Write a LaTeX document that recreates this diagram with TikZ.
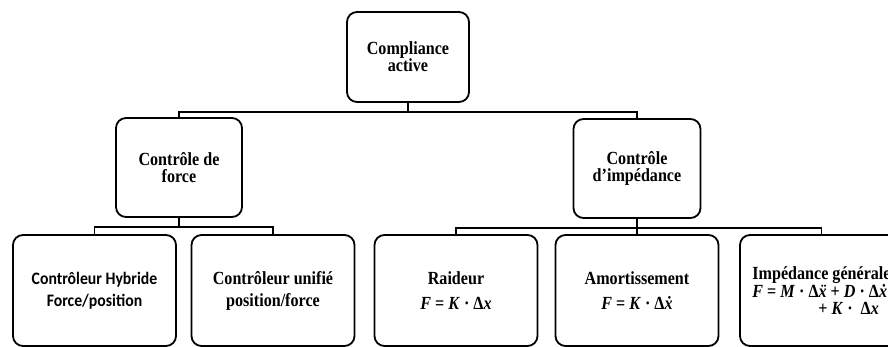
\documentclass[tikz,border=0pt]{standalone}
\usepackage{fontspec}
\setmainfont{Liberation Serif}[FakeStretch=0.87]
\newfontfamily\calib{Carlito}[FakeStretch=0.9]
\newcommand{\vi}[1]{\textit{#1}}
\newcommand{\dotx}{\textit{\accent"02D9 x}}
\newcommand{\ddotx}{\textit{\accent"00A8 x}}
\begin{document}
\begin{tikzpicture}[x=1pt,y=-1pt,
  box/.style={draw, line width=1.8pt, rounded corners=10pt, align=center,
    font=\fontsize{18.5}{17}\selectfont\bfseries, inner sep=0pt},
  leaf/.style={box, minimum width=163pt, minimum height=111pt},
  conn/.style={line width=1.8pt}]
\useasboundingbox (0,0) rectangle (888,347);
\clip (0,0) rectangle (888,347);
\node[box, minimum width=122pt, minimum height=90pt] (top) at (408,57) {Compliance\\active};
\node[box, minimum width=126pt, minimum height=99pt] (force) at (179,167.5) {Contrôle de\\force};
\node[box, minimum width=127pt, minimum height=99pt] (imp) at (637,168.5) {Contrôle\\d’impédance};
\node[leaf, font=\calib\fontsize{17.5}{22}\selectfont\bfseries] (h1) at (94.5,290.5) {Contrôleur Hybride\\Force/position};
\node[leaf, font=\fontsize{18.5}{22}\selectfont\bfseries] (h2) at (273,290.5) {Contrôleur unifié\\position/force};
\node[leaf, font=\fontsize{18.5}{25}\selectfont\bfseries] (r3) at (456,290.5) {Raideur\\\vi{F} = \vi{K} · Δ\vi{x}};
\node[leaf, font=\fontsize{18.5}{25}\selectfont\bfseries] (r4) at (637,290.5) {Amortissement\\\vi{F} = \vi{K} · Δ\dotx};
\node[leaf, align=left, font=\fontsize{18.5}{17}\selectfont\bfseries] (r5) at (821.5,290.5) {Impédance générale\\\vi{F} = \vi{M} · Δ\ddotx{} + \vi{D} · Δ\dotx\\\hspace*{66pt}+ \vi{K} ·\ \ Δ\vi{x}};
\draw[conn] (top.south) -- ++(0,9) coordinate (b1);
\draw[conn] (force.north) |- (b1) -| (imp.north);
\draw[conn] (force.south) -- ++(0,9) coordinate (b2);
\draw[conn] (h1.north) |- (b2) -| (h2.north);
\draw[conn] (imp.south) -- ++(0,9) coordinate (b3);
\draw[conn] (r3.north) |- (b3) -| (r5.north);
\draw[conn] (b3) -- (r4.north);
\end{tikzpicture}
\end{document}
